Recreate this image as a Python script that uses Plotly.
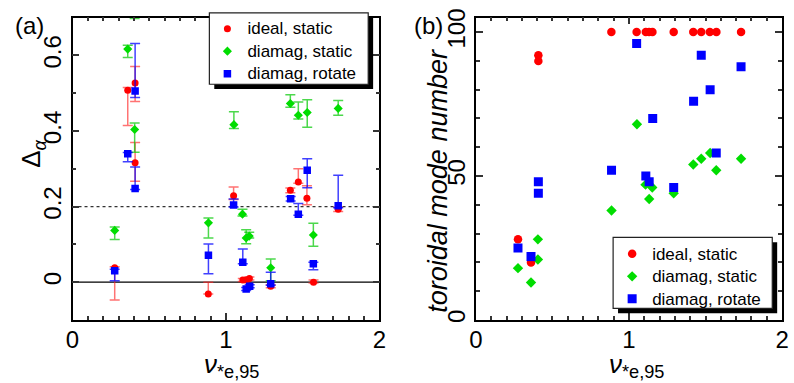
import plotly.graph_objects as go

# ---- data -------------------------------------------------------------
# ideal MHD, static equilibrium
nu_ideal = [0.275, 0.36, 0.408, 0.408, 0.885, 1.05, 1.11, 1.131, 1.153, 1.292, 1.42, 1.472, 1.528, 1.571, 1.732]
delta_ideal = [0.038, 0.508, 0.527, 0.316, -0.031, 0.229, 0.006, 0.006, 0.010, -0.011, 0.243, 0.265, 0.222, 0.000, 0.193]
delta_ideal_up = [0.003, 0.007, 0.044, 0.054, 0.031, 0.023, 0.004, 0.004, 0.004, 0.004, 0.006, 0.035, 0.033, 0.006, 0.005]
delta_ideal_dn = [0.085, 0.093, 0.049, 0.049, 0.0, 0.010, 0.004, 0.004, 0.004, 0.004, 0.006, 0.003, 0.017, 0.002, 0.006]
n_ideal = [28, 20, 92, 90, 100, 100, 100, 100, 100, 100, 100, 100, 100, 100, 100]

# diamagnetic, static
nu_dia = [0.275, 0.36, 0.405, 0.405, 0.886, 1.052, 1.108, 1.132, 1.152, 1.292, 1.42, 1.472, 1.53, 1.57, 1.732]
delta_dia = [0.137, 0.617, 0.73, 0.404, 0.157, 0.417, 0.180, 0.117, 0.122, 0.038, 0.473, 0.442, 0.449, 0.125, 0.460]
delta_dia_up = [0.009, 0.010, 0.02, 0.017, 0.013, 0.034, 0.013, 0.022, 0.010, 0.023, 0.023, 0.035, 0.034, 0.031, 0.021]
delta_dia_dn = [0.024, 0.022, 0.032, 0.060, 0.040, 0.010, 0.005, 0.015, 0.005, 0.034, 0.010, 0.010, 0.039, 0.030, 0.018]
n_dia = [18, 13, 28, 21, 38, 68, 47, 42, 46, 44, 54, 56, 58, 52, 56]

# diamagnetic, rotating
nu_rot = [0.275, 0.36, 0.408, 0.408, 0.886, 1.05, 1.11, 1.132, 1.155, 1.292, 1.422, 1.472, 1.53, 1.57, 1.732]
delta_rot = [0.030, 0.340, 0.506, 0.248, 0.071, 0.204, 0.053, -0.018, -0.011, -0.004, 0.221, 0.180, 0.296, 0.049, 0.202]
delta_rot_up = [0.004, 0.003, 0.126, 0.057, 0.030, 0.016, 0.035, 0.004, 0.004, 0.030, 0.006, 0.028, 0.031, 0.004, 0.081]
delta_rot_dn = [0.026, 0.021, 0.017, 0.003, 0.049, 0.005, 0.004, 0.004, 0.004, 0.004, 0.006, 0.003, 0.046, 0.016, 0.005]
n_rot = [25, 22, 48, 44, 52, 96, 50, 48, 70, 46, 76, 92, 80, 58, 88]

series_names = ["ideal, static", "diamag, static", "diamag, rotate"]
x_ticks = [0, 1, 2]
delta_ticks = [0, 0.2, 0.4, 0.6]
delta_ticktext = ["0", "0.2", "0.4", "0.6"]
n_ticks = [0, 50, 100]
delta_ref = 0.2

# ---- styling ----------------------------------------------------------
W, H = 794, 383
FONT = "Liberation Sans, Arial, sans-serif"
RED, GREEN, BLUE = "#ff0000", "#00dd00", "#0000ff"
ERR = {RED: "rgba(255,40,40,0.65)", GREEN: "rgba(0,200,0,0.7)", BLUE: "rgba(0,0,255,0.75)"}


def px(x):
    return x / W


def py(y):
    return 1 - y / H


def legend_label(name):
    # entries are spaced for a 15px font, label glyphs are drawn at 17px
    return f'<span style="font-size:17px">{name}</span>'


fig = go.Figure()

panel_a = [
    (series_names[0], nu_ideal, delta_ideal, delta_ideal_up, delta_ideal_dn, RED, "circle", 7),
    (series_names[1], nu_dia, delta_dia, delta_dia_up, delta_dia_dn, GREEN, "diamond", 7),
    (series_names[2], nu_rot, delta_rot, delta_rot_up, delta_rot_dn, BLUE, "square", 7.5),
]
for name, x, y, up, dn, col, sym, size in panel_a:
    fig.add_trace(go.Scatter(
        x=x, y=y, mode="markers", name=legend_label(name), legend="legend",
        marker=dict(color=col, symbol=sym, size=size, line=dict(width=0)),
        error_y=dict(type="data", symmetric=False, array=up, arrayminus=dn,
                     color=ERR[col], thickness=1.5, width=5),
        xaxis="x", yaxis="y",
    ))

panel_b = [
    (series_names[0], nu_ideal, n_ideal, RED, "circle", 8.5),
    (series_names[1], nu_dia, n_dia, GREEN, "diamond", 8),
    (series_names[2], nu_rot, n_rot, BLUE, "square", 9),
]
for name, x, y, col, sym, size in panel_b:
    fig.add_trace(go.Scatter(
        x=x, y=y, mode="markers", name=legend_label(name), legend="legend2",
        marker=dict(color=col, symbol=sym, size=size, line=dict(width=0)),
        xaxis="x2", yaxis="y2",
    ))

axis_common = dict(
    showline=True, linecolor="black", linewidth=1.5, mirror="allticks",
    ticks="inside", ticklen=7, tickwidth=1.5, tickcolor="#333333",
    showgrid=False, zeroline=False,
    tickfont=dict(family=FONT, size=24, color="black"),
)
minor_x = dict(dtick=0.1, ticks="inside", ticklen=4, tickwidth=1.5, tickcolor="#333333")

xa = (66.7, 379.0)
xb = (477.3, 789.0)
ytop, ybot = 9.0, 321.0

fig.update_layout(
    width=W, height=H,
    margin=dict(l=0, r=0, t=0, b=0),
    paper_bgcolor="white", plot_bgcolor="white",
    font=dict(family=FONT, color="black"),
    xaxis=dict(domain=[px(xa[0]), px(xa[1])], range=[0, 2], tickvals=x_ticks,
               minor=minor_x, anchor="y", ticklabelstandoff=-2, **axis_common),
    yaxis=dict(domain=[py(ybot), py(ytop)], range=[-0.1, 0.7], tickvals=delta_ticks,
               ticktext=delta_ticktext, tickangle=-90,
               minor=dict(dtick=0.1, ticks="inside", ticklen=4, tickwidth=1.5, tickcolor="#333333"),
               anchor="x", **axis_common),
    xaxis2=dict(domain=[px(xb[0]), px(xb[1])], range=[0, 2], tickvals=x_ticks,
                minor=minor_x, anchor="y2", ticklabelstandoff=-2, **axis_common),
    yaxis2=dict(domain=[py(ybot), py(ytop)], range=[0, 105], tickvals=n_ticks, tickangle=-90,
                minor=dict(dtick=10, ticks="inside", ticklen=4, tickwidth=1.5, tickcolor="#333333"),
                anchor="x2", **axis_common),
    legend=dict(x=px(204), y=py(3.5), xanchor="left", yanchor="top",
                bgcolor="rgba(0,0,0,0)", borderwidth=0,
                font=dict(family=FONT, size=15, color="black")),
    legend2=dict(x=px(616), y=py(236), xanchor="left", yanchor="top",
                 bgcolor="rgba(0,0,0,0)", borderwidth=0,
                 font=dict(family=FONT, size=15, color="black")),
    showlegend=True,
)

# reference lines in panel (a)
fig.add_shape(type="line", xref="x", yref="y", x0=0, x1=2, y0=0, y1=0,
              line=dict(color="black", width=1.3), layer="below")
fig.add_shape(type="line", xref="x", yref="y", x0=0, x1=2, y0=delta_ref, y1=delta_ref,
              line=dict(color="#333333", width=1.3, dash="dot"), layer="below")

# legend frames with drop shadow
for (l, t, r, b) in [(206, 4, 367.7, 77.7), (617, 235.7, 779, 309)]:
    fig.add_shape(type="rect", xref="paper", yref="paper",
                  x0=px(l + 5), x1=px(r + 5), y0=py(b + 5), y1=py(t + 5),
                  fillcolor="black", line=dict(width=0), layer="above")
    fig.add_shape(type="rect", xref="paper", yref="paper",
                  x0=px(l), x1=px(r), y0=py(b), y1=py(t),
                  fillcolor="white", line=dict(color="#222222", width=1.2), layer="above")

# panel labels and axis titles
ann = [
    dict(text="(a)", x=px(6), y=py(1), xanchor="left", yanchor="top", size=24, angle=0),
    dict(text="(b)", x=px(412), y=py(1), xanchor="left", yanchor="top", size=24, angle=0),
    dict(text="<i>ν</i><sub>*e,95</sub>", x=px(229), y=py(368), xanchor="center", yanchor="middle", size=26, angle=0),
    dict(text="<i>ν</i><sub>*e,95</sub>", x=px(641), y=py(368), xanchor="center", yanchor="middle", size=26, angle=0),
    dict(text="Δ<sub><i>α</i></sub>", x=px(26), y=py(150), xanchor="center", yanchor="middle", size=26, angle=-90),
    dict(text="<i>toroidal mode number</i>", x=px(439), y=py(177), xanchor="center", yanchor="middle", size=27, angle=-90),
]
for a in ann:
    fig.add_annotation(text=a["text"], xref="paper", yref="paper", x=a["x"], y=a["y"],
                       xanchor=a["xanchor"], yanchor=a["yanchor"], textangle=a["angle"],
                       showarrow=False, font=dict(family=FONT, size=a["size"], color="black"))

fig.write_html("out.html")
